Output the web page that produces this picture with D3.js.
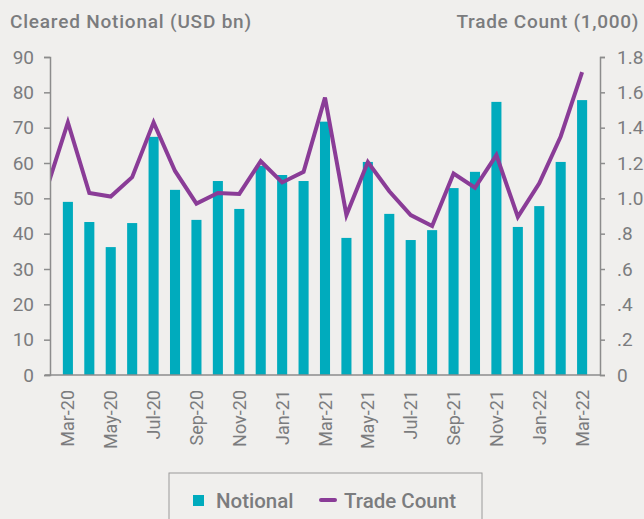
<!DOCTYPE html>
<html>
<head>
<meta charset="utf-8">
<script src="https://cdn.jsdelivr.net/npm/d3@7"></script>
<style>
  body { margin: 0; background: #f0efed; }
  svg { display: block; }
  text { font-family: Roboto, "Liberation Sans", sans-serif; fill: #7b7c7e; }
</style>
</head>
<body>
<svg id="chart" width="644" height="519"></svg>
<script>
// data
var months = ['Mar-20','Apr-20','May-20','Jun-20','Jul-20','Aug-20','Sep-20','Oct-20','Nov-20','Dec-20',
  'Jan-21','Feb-21','Mar-21','Apr-21','May-21','Jun-21','Jul-21','Aug-21','Sep-21','Oct-21','Nov-21','Dec-21',
  'Jan-22','Feb-22','Mar-22']
var notional = [49.0, 43.3, 36.2, 43.0, 67.4, 52.4, 43.9, 54.9, 47.0, 59.2,
  56.6, 54.9, 71.7, 38.8, 60.3, 45.6, 38.2, 41.0, 52.9, 57.5, 77.3, 41.9,
  47.8, 60.3, 77.8]
var tradeCount = [1.43, 1.03, 1.01, 1.12, 1.43, 1.155, 0.97, 1.03, 1.025, 1.21,
  1.09, 1.15, 1.57, 0.905, 1.205, 1.04, 0.905, 0.843, 1.14, 1.06, 1.245, 0.895,
  1.085, 1.35, 1.715]
var tradeCountPrior = 1.05 // Feb-20, the line comes in from the left edge
var leftTicks = [0, 10, 20, 30, 40, 50, 60, 70, 80, 90]
var rightTicks = [0, 0.2, 0.4, 0.6, 0.8, 1.0, 1.2, 1.4, 1.6, 1.8]
var xLabels = ['Mar-20','May-20','Jul-20','Sep-20','Nov-20','Jan-21','Mar-21','May-21','Jul-21',
  'Sep-21','Nov-21','Jan-22','Mar-22']

var svg = d3.select('#chart')
var barColor = '#00abbd'
var lineColor = '#8a3c97'
var axisColor = '#8c8c8c'
var plot = {left: 50, right: 600, top: 57, bottom: 375}

var x = d3.scaleBand().domain(months).range([plot.left, plot.right]).paddingInner(0.53).paddingOuter(0.6)
var y = d3.scaleLinear().domain([0, 90]).range([plot.bottom, plot.top])
var y2 = d3.scaleLinear().domain([0, 1.8]).range([plot.bottom, plot.top])

svg.append('text').text('Cleared Notional (USD bn)')
  .attr('x', 10).attr('y', 28).attr('font-size', 19).attr('font-weight', 500).attr('letter-spacing', 0.8)
svg.append('text').text('Trade Count (1,000)')
  .attr('x', 639).attr('y', 28).attr('text-anchor', 'end').attr('font-size', 19).attr('font-weight', 500)
  .attr('letter-spacing', 0.7)

// bars
svg.append('g').selectAll('rect').data(months).enter().append('rect')
  .attr('x', d => x(d))
  .attr('width', x.bandwidth())
  .attr('y', (d, i) => y(notional[i]))
  .attr('height', (d, i) => plot.bottom - y(notional[i]))
  .attr('fill', barColor)

// line
svg.append('clipPath').attr('id', 'clip').append('rect')
  .attr('x', plot.left).attr('y', 0).attr('width', plot.right - plot.left).attr('height', 519)
var cx = d => x(d) + x.bandwidth() / 2
var pts = [[cx(months[0]) - x.step(), y2(tradeCountPrior)]]
months.forEach(function (m, i) { pts.push([cx(m), y2(tradeCount[i])]) })
svg.append('path')
  .attr('d', d3.line()(pts))
  .attr('clip-path', 'url(#clip)')
  .attr('fill', 'none')
  .attr('stroke', lineColor)
  .attr('stroke-width', 4)
  .attr('stroke-linejoin', 'miter')

// axes
var gl = svg.append('g').attr('transform', 'translate(' + plot.left + ',0)')
  .call(d3.axisLeft(y).tickValues(leftTicks).tickSize(6).tickPadding(10).tickFormat(d3.format('d')))
var gr = svg.append('g').attr('transform', 'translate(' + plot.right + ',0)')
  .call(d3.axisRight(y2).tickValues(rightTicks).tickSize(5).tickPadding(12)
    .tickFormat(function (d) {
      if (d === 0) return '0'
      var s = d3.format('.1f')(d)
      return d < 1 ? s.replace(/^0/, '') : s
    }))
;[gl, gr].forEach(function (g) {
  g.select('.domain').attr('stroke', axisColor).attr('stroke-width', 1.5)
  g.selectAll('.tick line').attr('stroke', axisColor).attr('stroke-width', 1.5)
  g.selectAll('.tick text').attr('fill', '#7b7c7e').attr('font-size', 19)
    .attr('font-family', 'Roboto, sans-serif')
})
svg.append('line').attr('x1', plot.left - 5).attr('x2', plot.right).attr('y1', plot.bottom).attr('y2', plot.bottom)
  .attr('stroke', axisColor).attr('stroke-width', 1.5)

// x labels
svg.append('g').selectAll('text').data(xLabels).enter().append('text')
  .text(d => d)
  .attr('transform', d => 'translate(' + (cx(d) + 6.5) + ',390) rotate(-90)')
  .attr('text-anchor', 'end')
  .attr('font-family', '"Liberation Sans", Arial, sans-serif')
  .attr('font-size', 18)

// legend
var lg = svg.append('g')
lg.append('rect').attr('x', 169).attr('y', 473).attr('width', 313).attr('height', 60)
  .attr('fill', 'none').attr('stroke', '#9a9a9a').attr('stroke-width', 1)
lg.append('rect').attr('x', 193).attr('y', 495).attr('width', 11).attr('height', 11).attr('fill', barColor)
lg.append('text').text('Notional').attr('x', 216).attr('y', 508).attr('font-size', 20.5).attr('font-weight', 500)
lg.append('line').attr('x1', 321).attr('x2', 335).attr('y1', 500).attr('y2', 500)
  .attr('stroke', lineColor).attr('stroke-width', 4).attr('stroke-linecap', 'round')
lg.append('text').text('Trade Count').attr('x', 344).attr('y', 508).attr('font-size', 20.5).attr('font-weight', 500)
</script>
</body>
</html>
